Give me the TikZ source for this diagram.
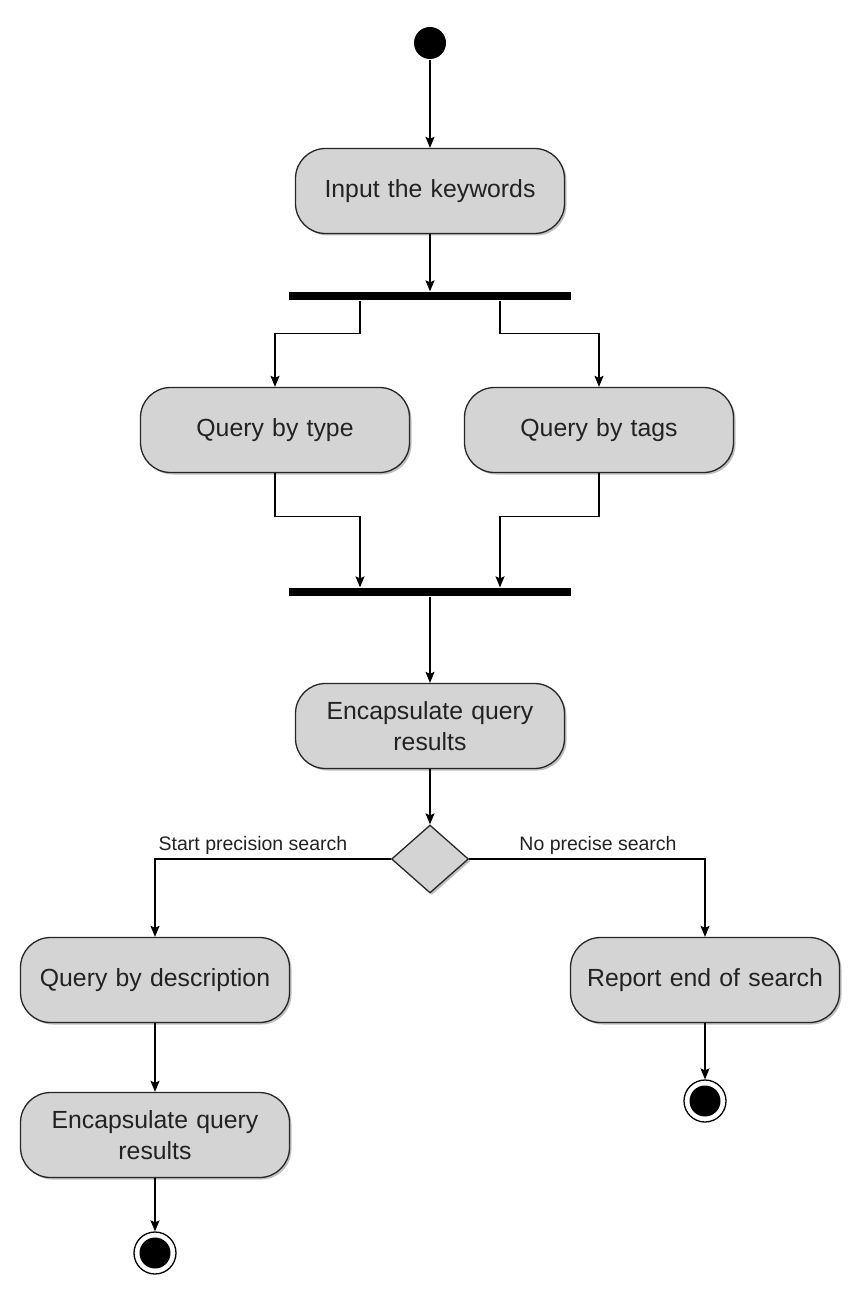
\documentclass[tikz,border=0pt]{standalone}
\usepackage{fontspec}
\setmainfont{Liberation Sans}
\usetikzlibrary{arrows.meta,shapes.geometric,shadows}
\definecolor{boxfill}{HTML}{D4D4D4}
\definecolor{txt}{HTML}{222222}
\begin{document}
\begin{tikzpicture}[x=1pt,y=-1pt,
  line width=1.3pt,
  act/.style={draw=black!85, fill=boxfill, rounded corners=30pt, minimum width=269pt, minimum height=85pt,
    text width=240pt, align=center, font=\fontsize{24.8}{31}\selectfont, text=txt,
    drop shadow={shadow xshift=2pt, shadow yshift=-2pt, opacity=0.25, fill=black}},
  bar/.style={fill=black, draw=none, minimum width=282pt, minimum height=8pt, inner sep=0pt},
  arr/.style={-{Stealth[length=11pt,width=9pt,inset=2pt]}},
  startnode/.style={circle, fill=black, minimum size=32pt, inner sep=0pt},
  endring/.style={circle, draw=black, line width=1.3pt, fill=white, minimum size=42pt, inner sep=0pt},
  lbl/.style={font=\fontsize{19.5}{23}\selectfont, text=txt, inner sep=0pt}
]
\useasboundingbox (0,0) rectangle (865,1305);
\node[startnode] (start) at (430,43) {};
\node[act] (input) at (430,191) {Input the keywords};
\node[bar] (bar1) at (430,296) {};
\node[act] (qtype) at (275,430) {Query by type};
\node[act] (qtags) at (599,430) {Query by tags};
\node[bar] (bar2) at (430,592) {};
\node[act] (enc1) at (430,726) {Encapsulate query\\results};
\node[diamond, draw=black!85, fill=boxfill, minimum width=77pt, minimum height=68pt, inner sep=0pt,
  drop shadow={shadow xshift=2pt, shadow yshift=-2pt, opacity=0.25, fill=black}] (dec) at (430,859) {};
\node[act] (qdesc) at (155,980) {Query by description};
\node[act] (report) at (705,980) {Report end of search};
\node[act] (enc2) at (155,1135) {Encapsulate query\\results};
\node[endring] (end1) at (705,1101) {};
\node[circle, fill=black, minimum size=31pt, inner sep=0pt] (end1in) at (end1) {};
\node[endring] (end2) at (155,1253) {};
\node[circle, fill=black, minimum size=31pt, inner sep=0pt] (end2in) at (end2) {};

\node[lbl] (l1) at (253,845) {Start precision search};
\node[lbl] (l2) at (598,845) {No precise search};

\draw[arr] (start) -- (input);
\draw[arr] (input) -- (bar1);
\draw[arr] ([xshift=-70pt]bar1.south) -- ++(0,33) -| (qtype.north);
\draw[arr] ([xshift=70pt]bar1.south) -- ++(0,33) -| (qtags.north);
\draw[arr] (qtype.south) -- ++(0,43) -| ([xshift=-70pt]bar2.north);
\draw[arr] (qtags.south) -- ++(0,43) -| ([xshift=70pt]bar2.north);
\draw[arr] (bar2) -- (enc1);
\draw[arr] (enc1) -- (dec);
\draw[arr] (dec.west) -| (qdesc.north);
\draw[arr] (dec.east) -| (report.north);
\draw[arr] (qdesc) -- (enc2);
\draw[arr] (report) -- (end1);
\draw[arr] (enc2) -- (end2);
\end{tikzpicture}
\end{document}
